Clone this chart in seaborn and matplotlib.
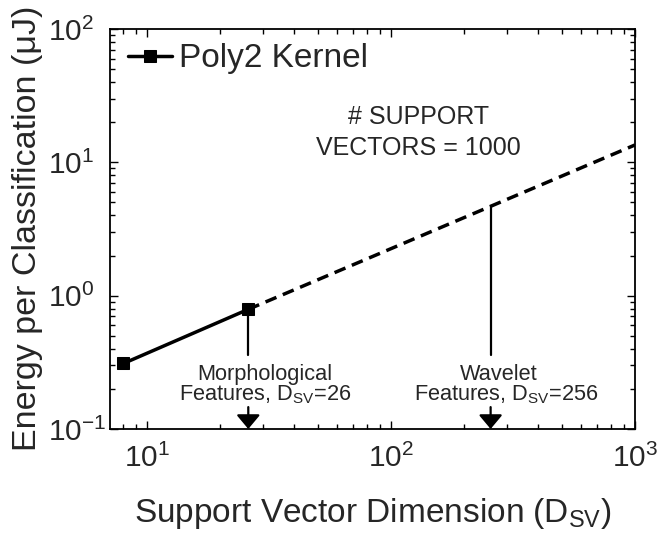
import matplotlib
matplotlib.use("Agg")
import matplotlib.pyplot as plt
import matplotlib.transforms as mtransforms
import seaborn as sns
import pandas as pd

# data
dims_measured = [8, 26]
energy_measured = [0.31, 0.79]
dims_projected = [26, 1000]
energy_projected = [0.79, 13.5]
feature_dims = [26, 256]
feature_names = ["Morphological", "Wavelet"]
feature_energy_top = [0.79, 4.7]

sns.set_theme(style="ticks")
plt.rcParams['font.family'] = ['Liberation Sans', 'DejaVu Sans']
plt.rcParams['mathtext.fontset'] = 'custom'
plt.rcParams['mathtext.rm'] = 'Liberation Sans'
plt.rcParams['mathtext.it'] = 'Liberation Sans:italic'
plt.rcParams['mathtext.bf'] = 'Liberation Sans:bold'

fig = plt.figure(figsize=(6.59, 5.39), dpi=100)
ax = fig.add_axes([110/659, 1-429/539, 525/659, 400/539])

df_m = pd.DataFrame({"x": dims_measured, "y": energy_measured})
df_p = pd.DataFrame({"x": dims_projected, "y": energy_projected})

sns.lineplot(data=df_m, x="x", y="y", ax=ax, color="black", lw=2.5,
             marker="s", markersize=8.5, markeredgecolor="black",
             label="Poly2 Kernel", zorder=3)
sns.lineplot(data=df_p, x="x", y="y", ax=ax, color="black", lw=2.5,
             linestyle=(0, (3.4, 2.0)), legend=False, zorder=2)

ax.set_xscale("log")
ax.set_yscale("log")
ax.set_xlim(7.05, 1000)
ax.set_ylim(0.1, 100)

# vertical lines, arrows and labels
name_dx = [12.2, 5.8]     # points
feat_dx = [12.2, 11.5]
for xd, name, ytop, ndx, fdx in zip(feature_dims, feature_names,
                                     feature_energy_top, name_dx, feat_dx):
    ax.plot([xd, xd], [ytop, 0.359], color="black", lw=1.6)
    ax.annotate("", xy=(xd, 0.1), xytext=(xd, 0.146),
                arrowprops=dict(arrowstyle="-|>,head_width=7.2,head_length=8.6",
                                mutation_scale=1, color="black", lw=1.6,
                                shrinkA=0, shrinkB=0))
    t1 = mtransforms.offset_copy(ax.transData, fig=fig, x=ndx, y=0, units="points")
    t2 = mtransforms.offset_copy(ax.transData, fig=fig, x=fdx, y=0, units="points")
    ax.text(xd, 0.233, name, ha="center", va="baseline", fontsize=15.7,
            transform=t1)
    ax.text(xd, 0.165, r"Features, D$_{\mathrm{SV}}$=%d" % xd, ha="center",
            va="baseline", fontsize=15.7, transform=t2)

ax.text(130, 16.8, "# SUPPORT\nVECTORS = 1000", ha="center", va="center",
        fontsize=18, linespacing=1.35)

ax.set_xlabel(r"Support Vector Dimension (D$_{\mathrm{SV}}$)", fontsize=24)
ax.set_ylabel(r"Energy per Classification (μJ)", fontsize=24.5)
ax.xaxis.set_label_coords(0.5, -0.1675)
ax.yaxis.set_label_coords(-0.127, 0.5025)

ax.tick_params(which="both", direction="in", top=True, right=True,
               labelsize=21.5, width=1.0, color="black")
ax.tick_params(which="major", length=6)
ax.tick_params(which="minor", length=3.5)
ax.tick_params(axis="x", which="major", pad=11)
ax.tick_params(axis="y", which="major", pad=45)
for lab in ax.get_yticklabels():
    lab.set_horizontalalignment("left")
for s in ax.spines.values():
    s.set_linewidth(1.3)
    s.set_color("black")

leg = ax.legend(loc="center left", frameon=False, fontsize=24,
                handlelength=1.33, handletextpad=0.2, borderpad=0,
                borderaxespad=0, bbox_to_anchor=(18/525, 1 - 30/400))

fig.savefig("out.png", dpi=100)
